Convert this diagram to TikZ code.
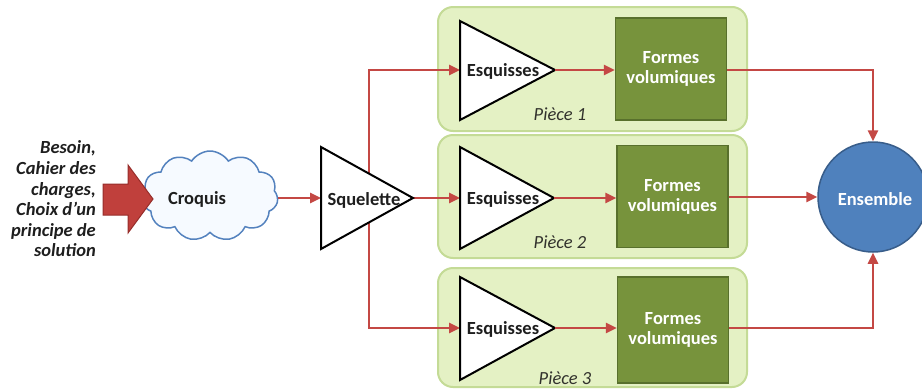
\documentclass[tikz,border=0pt]{standalone}
\usepackage{fontspec}
\setmainfont{Carlito}
\usetikzlibrary{shapes.symbols,arrows.meta}
\definecolor{lred}{RGB}{196,72,68}
\definecolor{arrowfill}{RGB}{192,64,60}
\definecolor{arrowdraw}{RGB}{150,45,42}
\definecolor{piecefill}{RGB}{228,241,196}
\definecolor{pieceborder}{RGB}{196,219,150}
\definecolor{formfill}{RGB}{119,147,60}
\definecolor{formdraw}{RGB}{88,112,44}
\definecolor{ensfill}{RGB}{79,129,189}
\definecolor{ensdraw}{RGB}{56,93,138}
\definecolor{cloudfill}{RGB}{246,250,255}
\definecolor{clouddraw}{RGB}{84,130,190}
\definecolor{txt}{RGB}{30,30,30}
\definecolor{piecetxt}{RGB}{50,50,45}
\begin{document}
\begin{tikzpicture}[x=1pt,y=-1pt,
  conn/.style={draw=lred,line width=2.5pt,-{Triangle[length=11pt,width=10pt]}},
  piecebox/.style={draw=pieceborder,fill=piecefill,line width=2pt,rounded corners=15pt,minimum width=309pt},
  formbox/.style={draw=formdraw,fill=formfill,line width=1.5pt,minimum width=111pt,minimum height=102pt,
    text=white,font=\bfseries\fontsize{18.5}{20}\selectfont,align=center,inner sep=0pt},
  tri/.style={draw=black,fill=white,line width=2pt,line join=miter},
  lbl/.style={text=txt,font=\bfseries\fontsize{18.5}{20}\selectfont,inner sep=0pt},
  piecelbl/.style={text=piecetxt,font=\itshape\fontsize{18.5}{20}\selectfont,inner sep=0pt}]
\useasboundingbox (0,0) rectangle (922,389);

% piece boxes
\node[piecebox,minimum height=124pt] (p1) at (592.5,69) {};
\node[piecebox,minimum height=123pt] (p2) at (592.5,196.5) {};
\node[piecebox,minimum height=119pt] (p3) at (592.5,327.5) {};

% coordinates
\coordinate (sqin) at (321,198);
\coordinate (sqout) at (413,198);
\coordinate (split) at (369,198);
\coordinate (e1in) at (460,70);
\coordinate (e1out) at (555,70);
\coordinate (e2in) at (460,198);
\coordinate (e2out) at (554,198);
\coordinate (e3in) at (460,328);
\coordinate (e3out) at (555,328);

% cloud
\node[cloud,cloud puffs=11,cloud puff arc=115,cloud ignores aspect,minimum width=136pt,minimum height=90pt,
  draw=clouddraw,fill=cloudfill,line width=1.5pt] (cloud) at (210,196) {};
\node[lbl] (croquis) at (197,199) {Croquis};

% block arrow
\draw[fill=arrowfill,draw=arrowdraw,line width=1pt,line join=miter]
  (103,184) -- (128,184) -- (128,165) -- (153,199) -- (128,233) -- (128,215) -- (103,215) -- cycle;

% input text
\node[anchor=east,align=right,text=txt,font=\bfseries\itshape\fontsize{18.5}{20.6}\selectfont,inner sep=0pt]
  (input) at (96,199) {Besoin,\\Cahier des\\charges,\\Choix d’un\\principe de\\solution};

% connectors from cloud and squelette
\draw[conn] (cloud.east |- sqin) -- (sqin);
\draw[conn] (split) |- (e1in);
\draw[conn] (split) |- (e3in);
\draw[conn] (sqout) -- (e2in);

% squelette triangle
\draw[tri] (321,147) -- (413,198) -- (321,249) -- cycle;
\node[lbl] (squelette) at (364,200) {Squelette};

% esquisses triangles
\draw[tri] (460,21) -- (555,70) -- (460,120) -- cycle;
\draw[tri] (460,147) -- (554,198) -- (460,249) -- cycle;
\draw[tri] (460,277) -- (555,328) -- (460,380) -- cycle;
\node[lbl] (esq1) at (503,71) {Esquisses};
\node[lbl] (esq2) at (503,199) {Esquisses};
\node[lbl] (esq3) at (503,329) {Esquisses};

% formes volumiques
\node[formbox] (f1) at (671,69) {Formes\\volumiques};
\node[formbox] (f2) at (672.5,196.5) {Formes\\volumiques};
\node[formbox,minimum height=106pt] (f3) at (673,330) {Formes\\volumiques};

\draw[conn] (e1out) -- (f1.west |- e1out);
\draw[conn] (e2out) -- (f2.west |- e2out);
\draw[conn] (e3out) -- (f3.west |- e3out);

% piece labels
\node[piecelbl] (l1) at (560,114) {Pièce 1};
\node[piecelbl] (l2) at (560,242) {Pièce 2};
\node[piecelbl] (l3) at (565,378) {Pièce 3};

% ensemble
\node[circle,minimum size=110pt,fill=ensfill,draw=ensdraw,line width=1.5pt,inner sep=0pt] (ens) at (873,197) {};
\node[text=white,font=\bfseries\fontsize{18.5}{20}\selectfont,inner sep=0pt] (enstxt) at (875,199) {Ensemble};

\draw[conn] (f1.east |- e1out) -| (ens.north);
\draw[conn] (f2.east |- ens.west) -- (ens.west);
\draw[conn] (f3.east |- e3out) -| (ens.south);
\end{tikzpicture}
\end{document}
